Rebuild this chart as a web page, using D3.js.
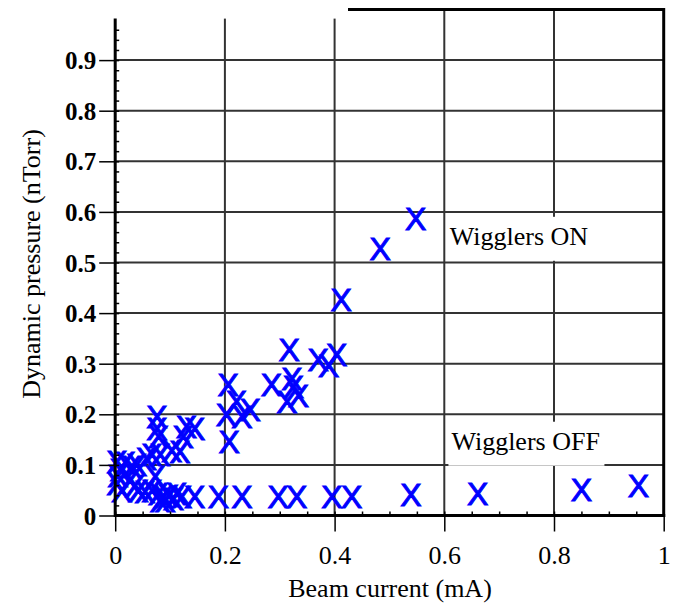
<!DOCTYPE html>
<html lang="en">
  <head>
    <meta charset="utf-8">
    <style>
      body { margin: 0; background: #fff; }
      svg { display: block; }
    </style>
  </head>
  <body>
    <div id="chart"></div>
    <script src="https://cdn.jsdelivr.net/npm/d3@7/dist/d3.min.js"></script>
    <script>
      // values
      var onX = [0.003, 0.009, 0.018, 0.030, 0.039, 0.057, 0.067, 0.082, 0.076, 0.076, 0.079,
                 0.103, 0.118, 0.124, 0.130, 0.145, 0.203, 0.206, 0.208, 0.221, 0.231, 0.246,
                 0.285, 0.313, 0.317, 0.322, 0.325, 0.334, 0.370, 0.389, 0.404, 0.412, 0.483, 0.548];
      var onY = [0.106, 0.090, 0.104, 0.096, 0.100, 0.113, 0.120, 0.120, 0.195, 0.172, 0.156,
                 0.129, 0.126, 0.156, 0.175, 0.172, 0.199, 0.258, 0.146, 0.225, 0.195, 0.209,
                 0.258, 0.225, 0.327, 0.271, 0.255, 0.238, 0.309, 0.297, 0.319, 0.427, 0.528, 0.587];

      var offX = [0.003, 0.005, 0.012, 0.027, 0.036, 0.042, 0.054, 0.067, 0.073, 0.079, 0.082,
                  0.088, 0.091, 0.097, 0.106, 0.112, 0.121, 0.145, 0.188, 0.231, 0.297, 0.331,
                  0.395, 0.431, 0.539, 0.661, 0.850, 0.954];
      var offY = [0.064, 0.078, 0.050, 0.070, 0.060, 0.050, 0.047, 0.050, 0.077, 0.044, 0.030,
                  0.037, 0.030, 0.040, 0.034, 0.044, 0.037, 0.037, 0.037, 0.037, 0.037, 0.037,
                  0.037, 0.037, 0.041, 0.044, 0.052, 0.060];

      var xMajor = [0, 0.2, 0.4, 0.6, 0.8, 1];
      var xMinor = d3.range(0, 1.0001, 0.05);
      var yMajor = [0, 0.1, 0.2, 0.3, 0.4, 0.5, 0.6, 0.7, 0.8, 0.9];
      var yMinor = d3.range(0, 0.961, 0.02);
      var xGrid = [0.2, 0.4, 0.6, 0.8];
      var yGrid = [0.1, 0.2, 0.3, 0.4, 0.5, 0.6, 0.7, 0.8, 0.9];

      var labels = [
        {text: 'Wigglers ON', x: 0.61, y: 0.535},
        {text: 'Wigglers OFF', x: 0.613, y: 0.13}
      ];

      var width = 675, height = 605;
      var serif = '"Liberation Serif", "Times New Roman", serif';

      var x = d3.scaleLinear().domain([0, 1]).range([115.2, 663.7]);
      var y = d3.scaleLinear().domain([0, 1]).range([515.5, 9.5]);

      var svg = d3.select('#chart').append('svg')
          .attr('width', width)
          .attr('height', height);

      // grid
      svg.append('g').selectAll('line')
          .data(yGrid)
        .enter().append('line')
          .attr('x1', x(0)).attr('x2', x(1))
          .attr('y1', function (d) { return y(d); })
          .attr('y2', function (d) { return y(d); })
          .attr('stroke', '#333').attr('stroke-width', 2);

      svg.append('g').selectAll('line')
          .data(xGrid)
        .enter().append('line')
          .attr('y1', y(0)).attr('y2', y(1))
          .attr('x1', function (d) { return x(d); })
          .attr('x2', function (d) { return x(d); })
          .attr('stroke', '#333').attr('stroke-width', 2);

      // text labels sit on white boxes over the grid
      var lab = svg.append('g').selectAll('g')
          .data(labels)
        .enter().append('g');
      lab.append('rect')
          .attr('x', function (d) { return x(d.x) - 3; })
          .attr('y', function (d) { return y(d.y) - 28; })
          .attr('width', function (d) { return d.text.length * 13; })
          .attr('height', 44)
          .attr('fill', '#fff');
      lab.append('text')
          .attr('x', function (d) { return x(d.x); })
          .attr('y', function (d) { return y(d.y); })
          .attr('font-family', serif)
          .attr('font-size', 26)
          .text(function (d) { return d.text; });

      // markers
      var pts = d3.zip(onX, onY).concat(d3.zip(offX, offY));
      svg.append('g').selectAll('text')
          .data(pts)
        .enter().append('text')
          .attr('x', function (d) { return x(d[0]); })
          .attr('y', function (d) { return y(d[1]); })
          .attr('dy', '0.358em')
          .attr('text-anchor', 'middle')
          .attr('font-family', '"Liberation Sans", Arial, sans-serif')
          .attr('font-size', 32)
          .attr('fill', '#0000ff')
          .attr('stroke', '#0000ff')
          .attr('stroke-width', 1)
          .text('X');

      // x axis
      var gx = svg.append('g').attr('transform', 'translate(0,' + y(0) + ')');
      gx.call(d3.axisBottom(x).tickValues(xMinor).tickSize(8).tickFormat(''));
      gx.call(d3.axisBottom(x).tickValues(xMinor).tickSize(-4).tickFormat(''));
      var gxm = svg.append('g').attr('transform', 'translate(0,' + y(0) + ')')
          .call(d3.axisBottom(x).tickValues(xMajor).tickSize(16).tickPadding(14)
            .tickFormat(function (d) { return d3.format('')(d); }));
      svg.selectAll('.domain').remove();
      gxm.selectAll('text').attr('font-family', serif).attr('font-size', 26).attr('fill', '#000');

      // y axis
      var gy = svg.append('g').attr('transform', 'translate(' + x(0) + ',0)');
      gy.call(d3.axisLeft(y).tickValues(yMinor).tickSize(8).tickFormat(''));
      gy.call(d3.axisLeft(y).tickValues(yMinor).tickSize(-4).tickFormat(''));
      var gym = svg.append('g').attr('transform', 'translate(' + x(0) + ',0)')
          .call(d3.axisLeft(y).tickValues(yMajor).tickSize(16).tickPadding(3)
            .tickFormat(function (d) { return d3.format('')(d); }));
      svg.selectAll('.domain').remove();
      gym.selectAll('text').attr('font-family', serif).attr('font-size', 25)
          .attr('font-weight', 'bold').attr('fill', '#000').attr('dy', '0.34em');
      svg.selectAll('.tick line').attr('stroke', '#000').attr('stroke-width', 1.5);

      // white patch over the top-left corner, as in the picture
      svg.append('rect')
          .attr('x', 0).attr('y', 0)
          .attr('width', 348).attr('height', y(0.982))
          .attr('fill', '#fff');

      // frame
      svg.append('line')
          .attr('x1', x(0)).attr('x2', x(1) + 1.5)
          .attr('y1', y(0)).attr('y2', y(0))
          .attr('stroke', '#000').attr('stroke-width', 3);
      svg.append('line')
          .attr('x1', x(0)).attr('x2', x(0))
          .attr('y1', y(0) + 1.5).attr('y2', y(0.982))
          .attr('stroke', '#000').attr('stroke-width', 3);
      svg.append('line')
          .attr('x1', x(1)).attr('x2', x(1))
          .attr('y1', y(0) + 1.5).attr('y2', y(1) - 1.5)
          .attr('stroke', '#000').attr('stroke-width', 3);
      svg.append('line')
          .attr('x1', 348).attr('x2', x(1))
          .attr('y1', y(1)).attr('y2', y(1))
          .attr('stroke', '#000').attr('stroke-width', 3);

      // axis titles
      svg.append('text')
          .attr('x', 390).attr('y', 597)
          .attr('text-anchor', 'middle')
          .attr('font-family', serif).attr('font-size', 26)
          .text('Beam current (mA)');
      svg.append('text')
          .attr('transform', 'translate(40,264) rotate(-90)')
          .attr('text-anchor', 'middle')
          .attr('font-family', serif).attr('font-size', 26)
          .text('Dynamic pressure (nTorr)');
    </script>
  </body>
</html>
